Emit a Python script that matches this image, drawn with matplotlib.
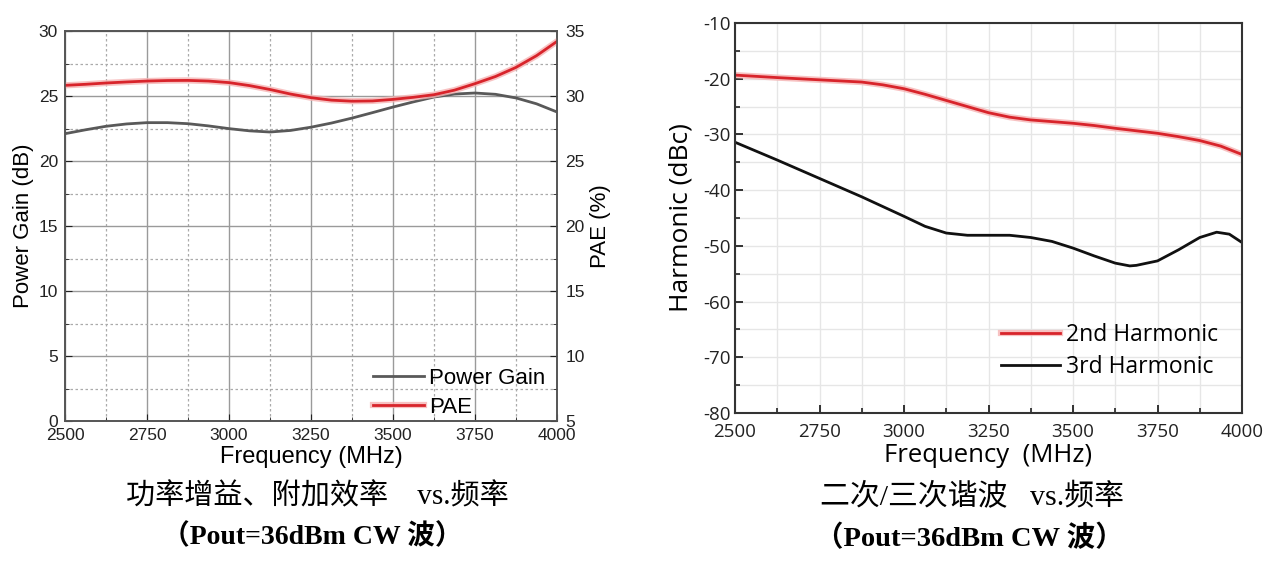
import matplotlib
matplotlib.use("Agg")
import matplotlib.pyplot as plt
import matplotlib.patheffects as pe
from matplotlib.ticker import MultipleLocator

plt.rcParams["axes.unicode_minus"] = False

# ---------------- data ----------------
freq_left = [2500, 2562.5, 2625, 2687.5, 2750, 2812.5, 2875, 2937.5, 3000, 3062.5,
             3125, 3187.5, 3250, 3312.5, 3375, 3437.5, 3500, 3562.5, 3625, 3687.5,
             3750, 3812.5, 3875, 3937.5, 4000]
power_gain = [22.1, 22.4, 22.67, 22.85, 22.95, 22.95, 22.87, 22.7, 22.49, 22.32,
              22.23, 22.35, 22.6, 22.92, 23.3, 23.72, 24.15, 24.55, 24.92, 25.15,
              25.23, 25.13, 24.85, 24.4, 23.77]
pae = [30.82, 30.9, 31.0, 31.08, 31.15, 31.19, 31.2, 31.15, 31.03, 30.8,
       30.5, 30.15, 29.87, 29.68, 29.6, 29.62, 29.74, 29.9, 30.1, 30.45,
       30.95, 31.5, 32.2, 33.1, 34.2]

freq_h2 = [2500, 2625, 2750, 2875, 2937.5, 3000, 3062.5, 3125, 3187.5, 3250, 3312.5,
           3375, 3437.5, 3500, 3562.5, 3625, 3687.5, 3750, 3812.5, 3875, 3937.5, 4000]
harm2 = [-19.35, -19.8, -20.2, -20.6, -21.1, -21.8, -22.8, -23.9, -25.0, -26.1, -26.9,
         -27.4, -27.7, -28.0, -28.4, -28.9, -29.35, -29.8, -30.4, -31.1, -32.1, -33.6]

freq_h3 = [2500, 2625, 2750, 2875, 3000, 3062.5, 3125, 3187.5, 3250, 3312.5, 3375,
           3437.5, 3500, 3562.5, 3625, 3668, 3687.5, 3750, 3812.5, 3875, 3925, 3962.5, 4000]
harm3 = [-31.4, -34.6, -37.9, -41.2, -44.7, -46.5, -47.7, -48.1, -48.1, -48.1, -48.5,
         -49.2, -50.4, -51.8, -53.1, -53.6, -53.5, -52.7, -50.7, -48.5, -47.55, -47.9, -49.4]

RED = "#d8242b"
halo = [pe.Stroke(linewidth=4.5, foreground="#f6b3b3", alpha=0.8), pe.Normal()]

fig = plt.figure(figsize=(12.8, 5.7), dpi=100)

# ---------------- left chart ----------------
fL = "Liberation Sans"
ax = fig.add_axes([65/1280, 1-421/570, (557-65)/1280, (421-31)/570])
ax.set_xlim(2500, 4000)
ax.set_ylim(0, 30)
ax.xaxis.set_major_locator(MultipleLocator(250))
ax.xaxis.set_minor_locator(MultipleLocator(125))
ax.yaxis.set_major_locator(MultipleLocator(5))
ax.yaxis.set_minor_locator(MultipleLocator(2.5))
ax.grid(which="major", color="#9a9a9a", lw=1.0, ls="-")
ax.grid(which="minor", color="#aaaaaa", lw=0.9, ls=(0, (2, 2)))
ax.set_axisbelow(True)
ax.tick_params(which="both", direction="in", labelsize=12.5, colors="#222222")
ax.tick_params(axis="x", which="major", length=5, pad=5)
ax.tick_params(axis="y", which="major", length=5, pad=5)
ax.tick_params(which="minor", length=3)
for lbl in ax.get_xticklabels() + ax.get_yticklabels():
    lbl.set_fontfamily(fL)
for s in ax.spines.values():
    s.set_color("#555555")
    s.set_linewidth(1.2)
l1, = ax.plot(freq_left, power_gain, color="#595959", lw=2.0, label="Power Gain")
ax.set_ylabel("Power Gain (dB)", fontsize=16, family=fL, labelpad=3)
ax.set_xlabel("Frequency (MHz)", fontsize=17, family=fL, labelpad=2)

ax2 = ax.twinx()
ax2.set_ylim(5, 35)
ax2.yaxis.set_major_locator(MultipleLocator(5))
ax2.yaxis.set_minor_locator(MultipleLocator(2.5))
ax2.tick_params(which="both", direction="in", labelsize=12.5, colors="#222222")
ax2.tick_params(which="major", length=5, pad=6)
ax2.tick_params(which="minor", length=3)
for lbl in ax2.get_yticklabels():
    lbl.set_fontfamily(fL)
for s in ax2.spines.values():
    s.set_color("#555555")
    s.set_linewidth(1.2)
l2, = ax2.plot(freq_left, pae, color=RED, lw=2.0, label="PAE", path_effects=halo)
ax2.set_ylabel("PAE (%)", fontsize=16, family=fL, labelpad=4)

ax2.legend(handles=[l1, l2], loc="lower right", frameon=False,
           prop={"family": fL, "size": 16}, handlelength=2.3,
           handletextpad=0.25, labelspacing=0.35, borderaxespad=0.0,
           bbox_to_anchor=(0.995, -0.015), bbox_transform=ax.transAxes)

# ---------------- right chart ----------------
fR = "Open Sans"
bx = fig.add_axes([735/1280, 1-413/570, (1242-735)/1280, (413-23)/570])
bx.set_xlim(2500, 4000)
bx.set_ylim(-80, -10)
bx.xaxis.set_major_locator(MultipleLocator(250))
bx.xaxis.set_minor_locator(MultipleLocator(125))
bx.yaxis.set_major_locator(MultipleLocator(10))
bx.yaxis.set_minor_locator(MultipleLocator(5))
bx.grid(which="both", color="#e6e6e6", lw=1.0)
bx.set_axisbelow(True)
bx.tick_params(which="both", direction="in", labelsize=13.5, colors="#222222")
bx.tick_params(axis="x", which="major", length=6, width=1.3, pad=7.5)
bx.tick_params(axis="y", which="major", length=6, width=1.3, pad=3)
bx.tick_params(which="minor", length=3.5, width=1.2)
for lbl in bx.get_xticklabels() + bx.get_yticklabels():
    lbl.set_fontfamily(fR)
for s in bx.spines.values():
    s.set_color("#333333")
    s.set_linewidth(1.5)
m1, = bx.plot(freq_h2, harm2, color=RED, lw=2.0, label="2nd Harmonic", path_effects=halo)
m2, = bx.plot(freq_h3, harm3, color="#111111", lw=2.0, label="3rd Harmonic")
bx.set_ylabel("Harmonic (dBc)", fontsize=19, family=fR, labelpad=7)
bx.set_xlabel("Frequency  (MHz)", fontsize=18.5, family=fR, labelpad=1.5)
bx.legend(handles=[m1, m2], loc="upper left", frameon=False,
          prop={"family": fR, "size": 16.5}, handlelength=2.6,
          handletextpad=0.25, labelspacing=0.35, borderaxespad=0.0,
          bbox_to_anchor=(0.506, 0.254), bbox_transform=bx.transAxes)

# ---------------- captions ----------------
cap_fam = ["Liberation Serif", "Noto Sans CJK SC"]
fig.text(317/1280, 1-497/570, "功率增益、附加效率\u3000vs.频率", ha="center", va="center",
         fontsize=21, family=cap_fam)
fig.text(312/1280, 1-537/570, "（Pout=36dBm CW 波）", ha="center", va="center",
         fontsize=20, family=cap_fam, weight="bold")
fig.text(972/1280, 1-497/570, "二次/三次谐波   vs.频率", ha="center", va="center",
         fontsize=21.5, family=cap_fam)
fig.text(969/1280, 1-538/570, "（Pout=36dBm CW 波）", ha="center", va="center",
         fontsize=20.5, family=cap_fam, weight="bold")

fig.savefig("out.png", dpi=100)
